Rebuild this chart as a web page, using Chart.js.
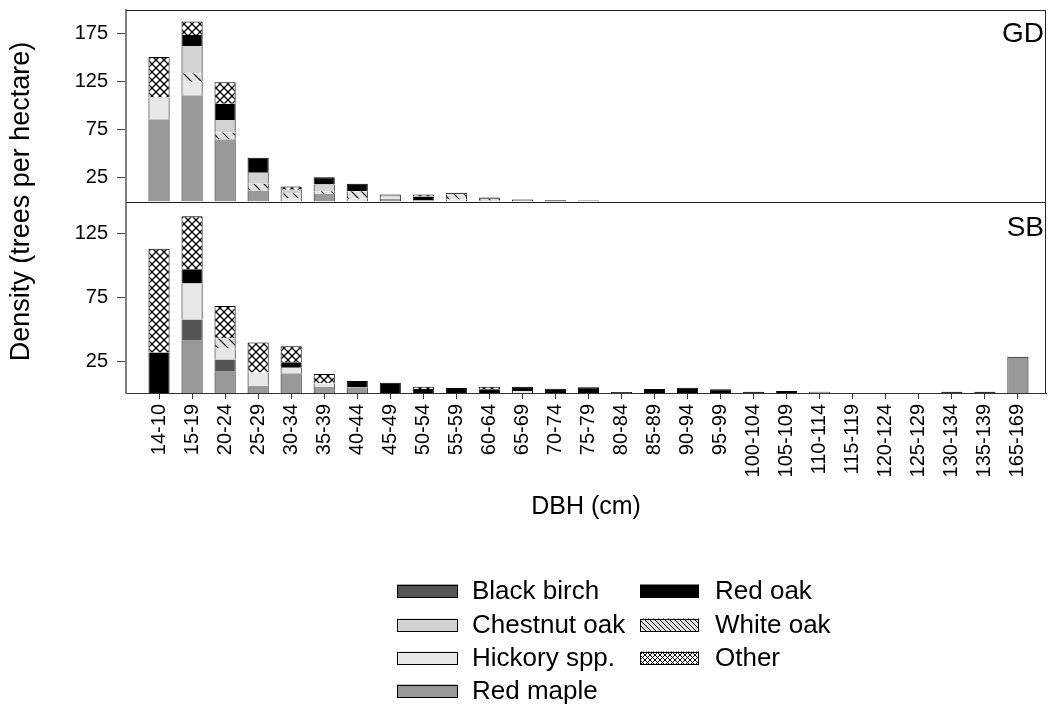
<!DOCTYPE html>
<html>
<head>
<meta charset="utf-8">
<script src="https://cdn.jsdelivr.net/npm/chart.js@4.4.1/dist/chart.umd.min.js"></script>
<style>
  html, body { margin: 0; padding: 0; background: #ffffff; }
  #wrap { width: 1050px; height: 707px; position: relative; }
</style>
</head>
<body>
<div id="wrap"><canvas id="chart" width="1050" height="707"></canvas></div>
<script>
// DBH size classes (cm)
const dbhClasses = ['14-10','15-19','20-24','25-29','30-34','35-39','40-44','45-49','50-54','55-59',
  '60-64','65-69','70-74','75-79','80-84','85-89','90-94','95-99','100-104','105-109',
  '110-114','115-119','120-124','125-129','130-134','135-139','165-169'];

const yTicksGD = [25, 75, 125, 175];
const yTicksSB = [25, 75, 125];

// Stacking order, bottom to top
const speciesNames = ['Red maple', 'Black birch', 'Hickory spp.', 'White oak', 'Chestnut oak', 'Red oak', 'Other'];
const legendColumns = [
  ['Black birch', 'Chestnut oak', 'Hickory spp.', 'Red maple'],
  ['Red oak', 'White oak', 'Other']
];

// GD stand, trees per hectare by size class
const gdRedMaple    = [86, 111, 65, 11.5, 0, 8, 0, 2.5, 1, 0, 1, 0, 0, 1, 0, 0, 0, 0, 0, 0, 0, 0, 0, 0, 0, 0, 0];
const gdBlackBirch  = [0, 0, 0, 0, 0, 0, 0, 0, 0, 0, 0, 0, 0, 0, 0, 0, 0, 0, 0, 0, 0, 0, 0, 0, 0, 0, 0];
const gdHickory     = [22.5, 14, 0, 0, 3.5, 0, 3, 2.3, 0, 2, 0, 0, 0, 0, 0, 0, 0, 0, 0, 0, 0, 0, 0, 0, 0, 0, 0];
const gdWhiteOak    = [0, 9, 7, 7, 5, 2.8, 7.8, 0, 0, 5.5, 2, 0, 0, 0, 0, 0, 0, 0, 0, 0, 0, 0, 0, 0, 0, 0, 0];
const gdChestnutOak = [0, 28.5, 13, 11.5, 3.7, 7, 0, 2.5, 0, 0, 0, 2.1, 0, 0, 0, 0, 0, 0, 0, 0, 0, 0, 0, 0, 0, 0, 0];
const gdRedOak      = [0, 11.5, 17, 15.7, 0, 7.6, 7.7, 0, 4.3, 1.6, 1.2, 0, 1.4, 0, 0, 0, 0, 0, 0, 0, 0, 0, 0, 0, 0, 0, 0];
const gdOther       = [42.5, 14, 22.5, 0, 3.5, 0, 0, 0, 2, 0, 0, 0, 0, 0, 0, 0, 0, 0, 0, 0, 0, 0, 0, 0, 0, 0, 0];

// SB stand, trees per hectare by size class
const sbRedMaple    = [0, 41, 16.7, 5.7, 15.4, 4.7, 4.4, 0, 0, 0, 0, 0, 0, 0, 0, 0, 0, 0, 0, 0, 1, 0, 0, 0, 0, 0, 28.3];
const sbBlackBirch  = [0, 16.6, 9.6, 0, 0, 0, 0, 0, 0, 0, 0, 0, 0, 0, 0, 0, 0, 0, 0, 0, 0, 0, 0, 0, 0, 0, 0];
const sbHickory     = [0, 28.2, 8.6, 10.4, 4.4, 2.9, 0, 0, 0, 0, 0, 1.5, 0, 0, 0, 0, 0, 0, 0, 0, 0, 0, 0, 0, 0, 0, 0];
const sbWhiteOak    = [0, 0, 7.8, 0, 0, 0, 0, 0, 0, 0, 0, 0, 0, 0, 0, 0, 0, 0, 0, 0, 0, 0, 0, 0, 0, 0, 0];
const sbChestnutOak = [0, 0, 0, 0, 0, 0, 0, 0, 0, 0, 0, 0, 0, 0, 0, 0, 0, 0, 0, 0, 0, 0, 0, 0, 0, 0, 0];
const sbRedOak      = [31.8, 11.2, 0, 0, 4.2, 0, 5, 8, 3.2, 3.9, 3, 3.4, 3.4, 4.6, 0.8, 3.1, 4.2, 2.9, 1, 1.5, 0, 0, 0, 0, 1, 1, 0];
const sbOther       = [81.2, 41.4, 25.5, 23.5, 12.7, 7.2, 0, 0, 1.7, 0, 1.8, 0, 0, 0, 0, 0, 0, 0, 0, 0, 0, 0, 0, 0, 0, 0, 0];

const gdSeries = [gdRedMaple, gdBlackBirch, gdHickory, gdWhiteOak, gdChestnutOak, gdRedOak, gdOther];
const sbSeries = [sbRedMaple, sbBlackBirch, sbHickory, sbWhiteOak, sbChestnutOak, sbRedOak, sbOther];

const FONT = "'Liberation Sans', Arial, Helvetica, sans-serif";

// ---- fill patterns ----
function crossHatch(cell, lw) {
  const c = document.createElement('canvas');
  c.width = cell; c.height = cell;
  const g = c.getContext('2d');
  g.fillStyle = '#ffffff';
  g.fillRect(0, 0, cell, cell);
  g.strokeStyle = '#000000';
  g.lineWidth = lw;
  g.beginPath();
  g.moveTo(-1, -1); g.lineTo(cell + 1, cell + 1);
  g.moveTo(cell + 1, -1); g.lineTo(-1, cell + 1);
  g.stroke();
  return g.createPattern(c, 'repeat');
}
function backHatch(cell, lw, bg) {
  const c = document.createElement('canvas');
  c.width = cell; c.height = cell;
  const g = c.getContext('2d');
  g.fillStyle = bg;
  g.fillRect(0, 0, cell, cell);
  g.strokeStyle = '#000000';
  g.lineWidth = lw;
  g.beginPath();
  g.moveTo(-1, -1); g.lineTo(cell + 1, cell + 1);
  g.moveTo(-1, cell - 1); g.lineTo(1, cell + 1);
  g.moveTo(cell - 1, -1); g.lineTo(cell + 1, 1);
  g.stroke();
  return g.createPattern(c, 'repeat');
}

const barFills = {
  'Red maple': '#999999',
  'Black birch': '#555555',
  'Hickory spp.': '#e8e8e8',
  'White oak': backHatch(10, 1.2, '#e2e2e2'),
  'Chestnut oak': '#d2d2d2',
  'Red oak': '#000000',
  'Other': crossHatch(8, 1.3)
};
const legendFills = Object.assign({}, barFills, {
  'White oak': backHatch(5, 1, '#e2e2e2'),
  'Other': crossHatch(5, 1)
});

// ---- datasets ----
function topBorder(series, s) {
  return function (ctx) {
    const i = ctx.dataIndex;
    let isTop = true;
    for (let k = s + 1; k < series.length; k++) {
      if (series[k][i] > 0) { isTop = false; break; }
    }
    return { left: 1, right: 1, bottom: 0, top: isTop ? 1 : 0 };
  };
}
// both panels share one x axis; bars are not grouped side by side,
// each panel stacks on its own y axis
function buildSets(series, yId) {
  return series.map((vals, s) => ({
    label: speciesNames[s],
    data: vals.map((v, i) => ({ x: i, y: v > 0 ? v : null })),
    xAxisID: 'x',
    yAxisID: yId,
    grouped: false,
    backgroundColor: barFills[speciesNames[s]],
    borderColor: '#000000',
    borderWidth: topBorder(series, s),
    borderSkipped: false,
    barPercentage: 0.8,
    categoryPercentage: 0.8
  }));
}

const datasets = buildSets(gdSeries, 'yGD').concat(buildSets(sbSeries, 'ySB'));

function yAxis(max, tickValues) {
  return {
    type: 'linear',
    position: 'left',
    stack: 'panels',
    stackWeight: 1,
    stacked: true,
    min: 0,
    max: max,
    afterBuildTicks: s => { s.ticks = tickValues.map(v => ({ value: v })); },
    afterFit: s => { s.width = 126; s.paddingTop = 0; s.paddingBottom = 0; },
    ticks: { font: { family: FONT, size: 20 }, color: '#000000', padding: 9 },
    grid: { drawOnChartArea: false, tickLength: 9, tickColor: '#444444', tickWidth: 1 },
    border: { display: true, color: '#808080', width: 2 }
  };
}

// ---- decorations: frame, panel names, axis title, legend ----
const decorations = {
  id: 'decorations',
  afterDatasetsDraw(chart) {
    const g = chart.ctx;
    const a = chart.chartArea;
    const yGD = chart.scales.yGD;
    const ySB = chart.scales.ySB;
    g.save();
    g.strokeStyle = '#222222';
    g.lineWidth = 1;
    g.beginPath();
    g.moveTo(a.left, a.top + 0.5); g.lineTo(a.right, a.top + 0.5);
    g.moveTo(a.right - 0.5, a.top); g.lineTo(a.right - 0.5, a.bottom);
    g.moveTo(a.left, Math.round(yGD.bottom) + 0.5); g.lineTo(a.right, Math.round(yGD.bottom) + 0.5);
    g.stroke();

    g.fillStyle = '#000000';
    g.font = '28px ' + FONT;
    g.textAlign = 'right';
    g.textBaseline = 'alphabetic';
    g.fillText('GD', a.right - 2, yGD.top + 32);
    g.fillText('SB', a.right - 2, ySB.top + 34);
    g.restore();
  },
  afterDraw(chart) {
    const g = chart.ctx;
    const a = chart.chartArea;
    g.save();
    g.fillStyle = '#000000';
    g.font = '27px ' + FONT;
    g.translate(22, (a.top + a.bottom) / 2);
    g.rotate(-Math.PI / 2);
    g.textAlign = 'center';
    g.textBaseline = 'middle';
    g.fillText('Density (trees per hectare)', 0, 0);
    g.restore();

    // legend, two columns
    const cols = [{ x: 397, w: 61, tx: 472 }, { x: 640, w: 59, tx: 715 }];
    const rowY = [591, 625, 658, 691];
    const sh = 13;
    g.save();
    g.font = '26px ' + FONT;
    g.textBaseline = 'middle';
    g.textAlign = 'left';
    legendColumns.forEach((names, c) => {
      names.forEach((name, r) => {
        const x = cols[c].x, y = rowY[r];
        g.fillStyle = legendFills[name];
        g.fillRect(x, y - sh / 2, cols[c].w, sh);
        g.strokeStyle = '#000000';
        g.lineWidth = 1;
        g.strokeRect(x + 0.5, Math.round(y - sh / 2) + 0.5, cols[c].w - 1, sh - 1);
        g.fillStyle = '#000000';
        g.fillText(name, cols[c].tx, y + 1);
      });
    });
    g.restore();
  }
};

new Chart(document.getElementById('chart'), {
  type: 'bar',
  data: { datasets: datasets },
  options: {
    responsive: false,
    animation: false,
    devicePixelRatio: 1,
    layout: { padding: { left: 0, top: 10, right: 4, bottom: 0 } },
    plugins: { legend: { display: false }, tooltip: { enabled: false } },
    scales: {
      x: {
        type: 'linear',
        position: 'bottom',
        offset: false,
        min: -1,
        max: 26.85,
        stacked: true,
        afterBuildTicks: s => { s.ticks = dbhClasses.map((_, i) => ({ value: i })); },
        afterFit: s => { s.height = 314; s.paddingLeft = 0; s.paddingRight = 0; },
        ticks: {
          autoSkip: false,
          minRotation: 90,
          maxRotation: 90,
          padding: 5,
          font: { family: FONT, size: 20 },
          color: '#000000',
          callback: v => dbhClasses[v]
        },
        grid: { drawOnChartArea: false, offset: false, tickLength: 6, tickColor: '#333333' },
        border: { display: true, color: '#333333', width: 1 },
        title: {
          display: true,
          text: 'DBH (cm)',
          font: { family: FONT, size: 25 },
          color: '#000000',
          padding: { top: 0, bottom: 185 }
        }
      },
      ySB: yAxis(150, yTicksSB),
      yGD: yAxis(200, yTicksGD)
    }
  },
  plugins: [decorations]
});
</script>
</body>
</html>
